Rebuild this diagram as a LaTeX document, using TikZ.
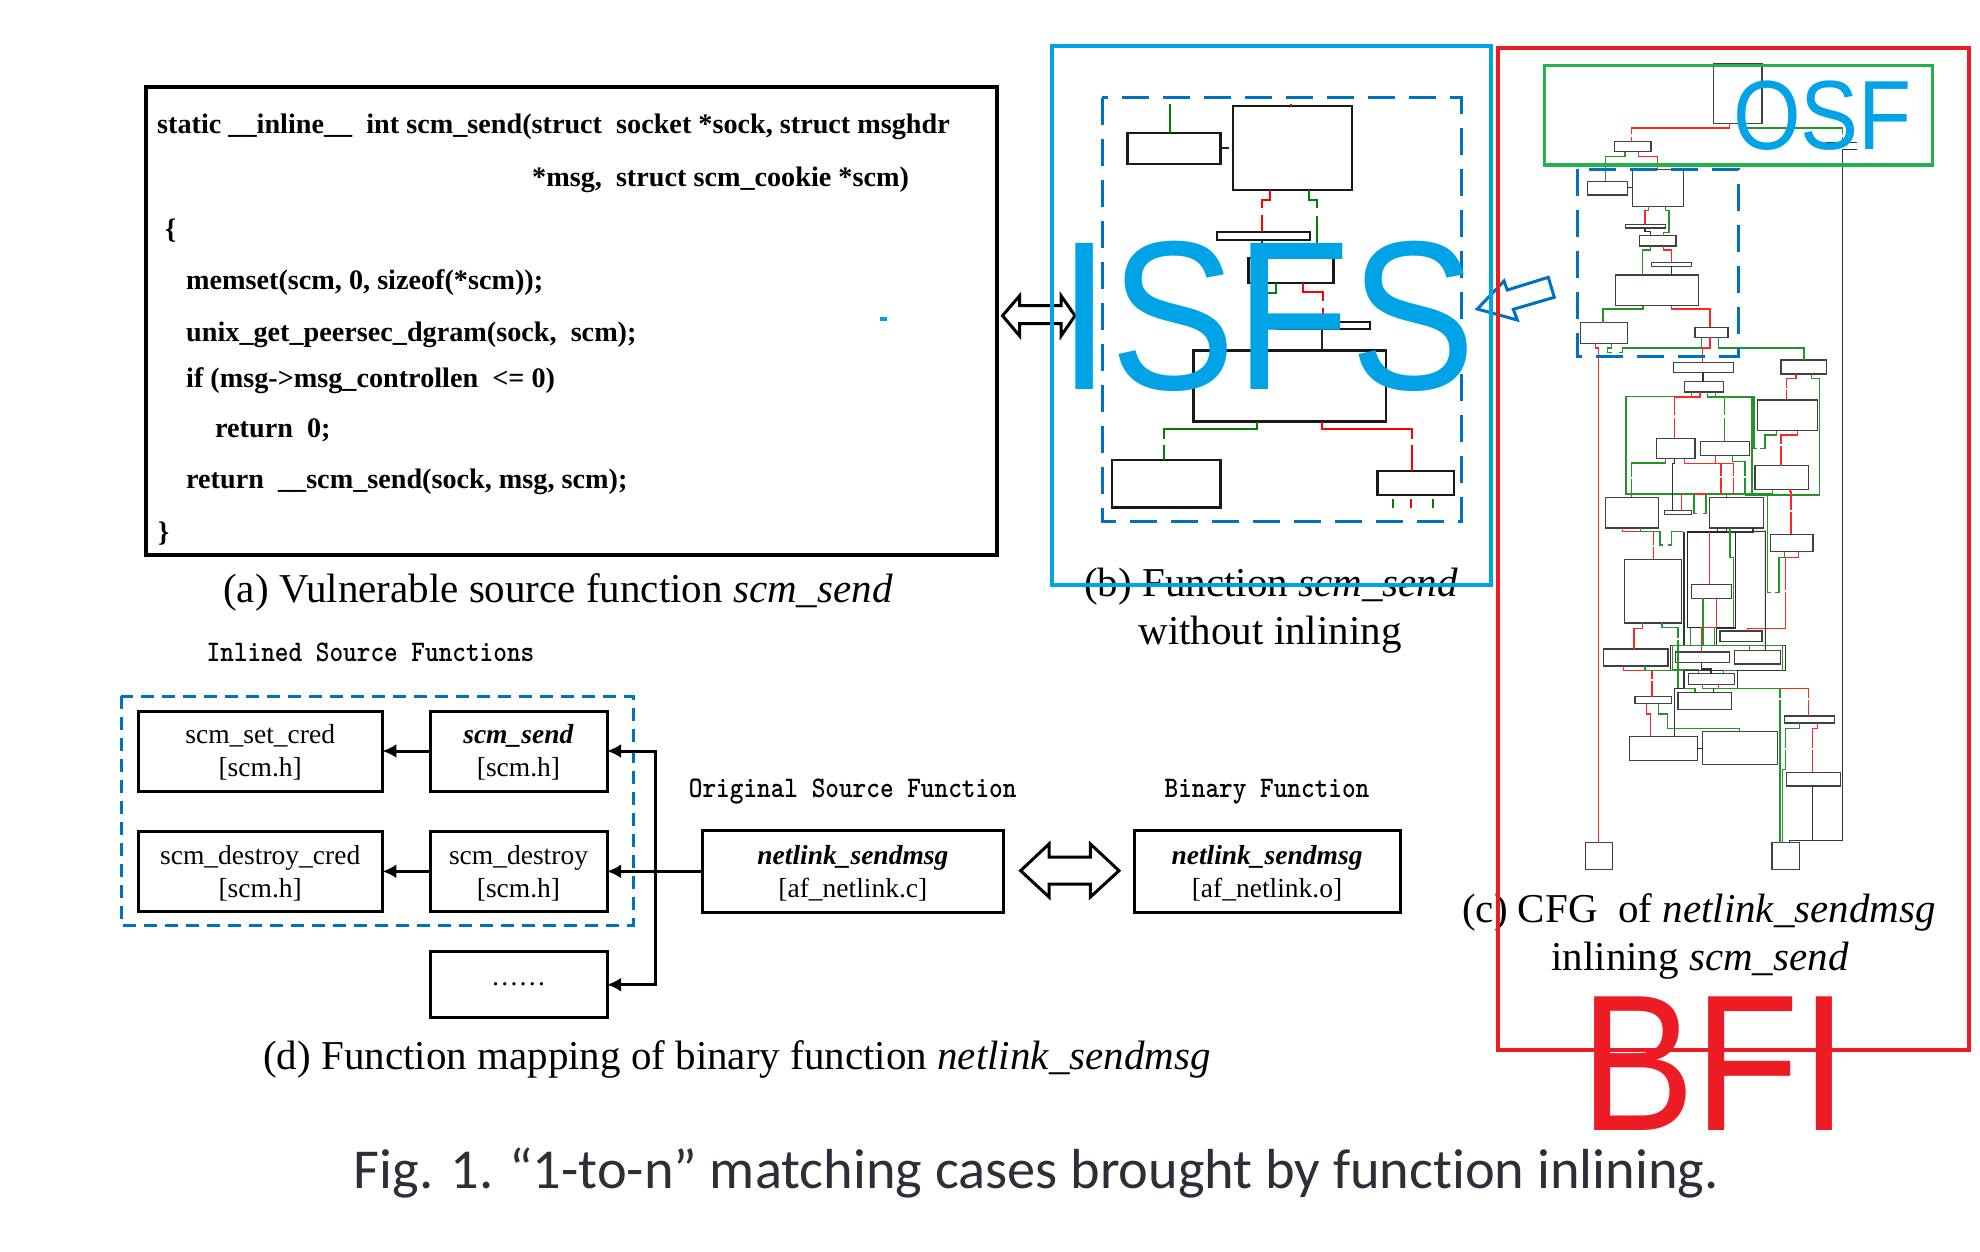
\documentclass[tikz,border=0pt]{standalone}
\usepackage{fontspec}
\setmainfont{Liberation Serif}
\newfontfamily\bigsans{Liberation Sans}
\newfontfamily\capfont[Ligatures=NoCommon]{Carlito}
\usetikzlibrary{arrows.meta}
\definecolor{dashblue}{HTML}{0070C0}
\definecolor{isfsblue}{HTML}{00A4E6}
\definecolor{bfired}{HTML}{ED1C24}
\definecolor{osfgreen}{HTML}{22B14C}
\definecolor{capgray}{HTML}{2E2E38}
\tikzset{
  x=1pt,y=-1pt,
  anybox/.style={draw,inner sep=0pt,outer sep=0pt},
  cfgbox/.style={anybox,draw=black!75,line width=1.4pt},
  isbox/.style={anybox,draw=black!90,line width=2.4pt},
  mapbox/.style={anybox,draw=black,line width=3pt,align=center,font=\fontsize{27.5}{33}\selectfont},
  codetext/.style={anchor=base west,inner sep=0pt,font=\fontsize{28.2}{30}\selectfont\bfseries},
  captext/.style={anchor=base,inner sep=0pt,font=\fontsize{41}{44}\selectfont},
  headtext/.style={inner sep=0pt,font=\fontsize{26}{30}\selectfont\ttfamily\bfseries,yscale=1.15,transform shape},
  bigtext/.style={inner sep=0pt,anchor=base west,font=\fontsize{#1}{#1}\selectfont\bigsans,yscale=1.13,transform shape},
  rr/.style={draw=red!85!white,line width=1.1pt},
  gg/.style={draw=green!50!black!85!white,line width=1.1pt},
  kk/.style={draw=black!80,line width=1.1pt},
  irr/.style={draw=red,line width=2pt},
  igg/.style={draw=green!50!black,line width=2pt},
  ikk/.style={draw=black!85,line width=2pt},
  maparrow/.style={draw=black,line width=3pt,-{Latex[length=14pt,width=14pt]}},
  outlinearrow/.style={draw=black,line width=3pt,fill=white,line join=miter},
  dashbox/.style={draw=dashblue,line width=3pt,dash pattern=on 27pt off 14pt},
}
\newcommand{\mkbox}[6][cfgbox]{%
  \pgfmathsetmacro\bxw{#5-#3}\pgfmathsetmacro\bxh{#6-#4}%
  \pgfmathsetmacro\bxx{(#3+#5)/2}\pgfmathsetmacro\bxy{(#4+#6)/2}%
  \node[#1,minimum width=\bxw pt,minimum height=\bxh pt] (#2) at (\bxx,\bxy) {};}
\begin{document}
\begin{tikzpicture}
\useasboundingbox (0,0) rectangle (1980,1252);
% ---------- (a) code
\mkbox[anybox,draw=black,line width=4pt]{code}{146}{87}{997}{555}
\node[codetext] (c1) at (157,134) {static \_\_inline\_\_ \ int scm\_send(struct \ socket *sock, struct msghdr};
\node[codetext] (c2) at (532,186) {*msg, \ struct scm\_cookie *scm)};
\node[codetext] (c3) at (165,238) {\{};
\node[codetext] (c4) at (186,289) {memset(scm, 0, sizeof(*scm));};
\node[codetext] (c5) at (186,341) {unix\_get\_peersec\_dgram(sock, \ scm);};
\node[codetext] (c6) at (186,387) {if (msg->msg\_controllen \ <= 0)};
\node[codetext] (c7) at (215,437) {return \ 0;};
\node[codetext] (c8) at (186,488) {return \ \_\_scm\_send(sock, msg, scm);};
\node[codetext] (c9) at (158,541) {\}};
\fill[isfsblue] (880,316.5) rectangle (887,321);
\node[captext] (capa) at (558,602) {(a) Vulnerable source function \textit{scm\_send}};
% ---------- double arrow a-b
\draw[outlinearrow] (1002.5,315.7) -- (1019.7,295.7) -- (1019.7,305.7) -- (1061,305.7) -- (1061,295.7) -- (1075,315.7) -- (1061,336) -- (1061,323.6) -- (1019.7,323.6) -- (1019.7,336) -- cycle;
% ---------- (b) detail graph
\draw[dashbox] (1102,98) rectangle (1461,521);
\mkbox[isbox]{ia}{1127.3}{133}{1220.3}{164}
\mkbox[isbox]{ib}{1233}{106}{1351.7}{190}
\mkbox[isbox,line width=1.8pt]{ic}{1216.7}{232}{1310}{240}
\mkbox[isbox]{id}{1248.3}{258}{1333.3}{282.7}
\mkbox[isbox,line width=1.8pt]{ie}{1277.3}{321.6}{1370}{329}
\mkbox[isbox]{if}{1193.3}{350.4}{1385.7}{421.6}
\mkbox[isbox]{ig}{1112}{460}{1220.3}{507.5}
\mkbox[isbox]{ih}{1377.3}{471}{1454}{495}
\coordinate (itop) at (1170,104.5);
\draw[igg] (itop) -- (ia.north -| itop);
\coordinate (itick) at (1229,148);
\draw[ikk] (ia.east |- itick) -- (itick);
\draw[irr] (1290.7,104) -- (ib.north -| 1290.7,0);
\draw[irr] (ib.south -| 1270,0) -- (1270,200) -- (1261.7,200) -- (1261.7,208) (1261.7,215) -- (ic.north -| 1261.7,0);
\draw[igg] (ib.south -| 1309,0) -- (1309,200) -- (1317.3,200) -- (1317.3,208) (1317.3,215.5) -- (id.north -| 1317.3,0);
\draw[ikk] (ic.south -| 1261.7,0) -- (id.north -| 1261.7,0);
\draw[igg] (id.south -| 1275.7,0) -- (1275.7,292.5) -- (1256,292.5) -- (if.north -| 1256,0);
\draw[irr] (id.south -| 1303.3,0) -- (1303.3,292) -- (1322.7,292) -- (1322.7,301) (1322.7,308) -- (ie.north -| 1322.7,0);
\draw[ikk] (ie.south -| 1322.3,0) -- (if.north -| 1322.3,0);
\draw[igg] (if.south -| 1256.7,0) -- (1256.7,429) -- (1164.3,429) -- (1164.3,439) (1164.3,444.5) -- (ig.north -| 1164.3,0);
\draw[irr] (if.south -| 1322.3,0) -- (1322.3,429) -- (1411.7,429) -- (1411.7,439) (1411.7,444.5) -- (ih.north -| 1411.7,0);
\draw[igg] (1393.3,499) -- (1393.3,508);
\draw[irr] (1411.3,499) -- (1411.3,508);
\draw[igg] (1432.7,499) -- (1432.7,508);
% ---------- (c) CFG boxes
\mkbox{top}{1713.3}{64}{1762}{123.3}
\mkbox[cfgbox,draw=none]{tb}{1825}{142.7}{1857}{149.3}
\mkbox{s1}{1614.3}{141.7}{1651}{151.7}
\mkbox{s2}{1587.3}{181.3}{1627.3}{195}
\mkbox{s3}{1632.3}{169.3}{1683.7}{206.3}
\mkbox[cfgbox,line width=1.1pt]{s4}{1625.7}{224.3}{1665.7}{228}
\mkbox{s5}{1639.3}{235.7}{1676}{246}
\mkbox[cfgbox,line width=1.1pt]{s6}{1651.7}{262.7}{1691.7}{266.3}
\mkbox{s7}{1615.7}{275}{1698.7}{305.7}
\mkbox{s8}{1580.3}{322.7}{1627.3}{343.3}
\mkbox{s9}{1695}{327.3}{1728}{337.3}
\mkbox{n1}{1673.3}{362.5}{1733.5}{372.5}
\mkbox{n2}{1781}{360}{1826.3}{374}
\mkbox{n3}{1684.7}{381.7}{1723.3}{392}
\mkbox{n4}{1757.3}{400}{1817.3}{430.7}
\mkbox{n5}{1656.3}{438.7}{1695}{458.7}
\mkbox{n6}{1700.3}{441.7}{1749.3}{455.3}
\mkbox{n7}{1755}{465.7}{1808.3}{489.3}
\mkbox{n8}{1770.7}{534.3}{1813}{551.7}
\mkbox{n9}{1605.3}{497.3}{1658.7}{528}
\mkbox[cfgbox,line width=1.1pt]{n10}{1664.3}{510.7}{1691.7}{514.3}
\mkbox{n11}{1709.7}{497.3}{1763.3}{528}
\mkbox{n12}{1624.7}{559.3}{1681.3}{623}
\mkbox{n13}{1691.3}{584.3}{1731.3}{598.3}
\mkbox{n14}{1720}{631}{1762}{641.3}
\mkbox{n15}{1603.3}{649}{1668}{666}
\mkbox{n16}{1675.7}{652}{1729.3}{662.7}
\mkbox{n17}{1734.3}{650.3}{1780.7}{664}
\mkbox{n18}{1688.3}{673.7}{1734.7}{684.3}
\mkbox{n19}{1678}{692.3}{1731.3}{709.3}
\mkbox{n20}{1635}{696.7}{1671.3}{703.7}
\mkbox{n21}{1629.3}{736.3}{1697.3}{760.3}
\mkbox{n22}{1702.7}{731.7}{1777.7}{764.7}
\mkbox{n23}{1784.3}{716}{1834.3}{723}
\mkbox{n24}{1786.7}{772.7}{1840.3}{786}
\mkbox{t1}{1585.3}{842.7}{1612.7}{869.7}
\mkbox{t2}{1772}{842.7}{1799.3}{869.7}
% ---------- (c) CFG connectors
\draw[kk] (tb.north west) -- (tb.north east) (tb.south -| 1842.3,0) -- (tb.south east);
\draw[rr] (top.south -| 1729.3,0) -- (1729.3,128) -- (1631.7,128) -- (1631.7,134) (1631.7,136.7) -- (s1.north -| 1631.7,0);
\draw[gg] (top.south -| 1745,0) -- (1745,128) -- (1842.3,128) -- (1842.3,134) (1842.3,136.7) -- (tb.north -| 1842.3,0);
\draw[kk] (tb.south -| 1842.3,0) -- (1842.3,840.7) -- (1789.3,840.7) -- (t2.north -| 1789.3,0);
\draw[gg] (s1.south -| 1625,0) -- (1625,156.7) -- (1605.3,156.7) -- (s2.north -| 1605.3,0);
\draw[rr] (s1.south -| 1638.3,0) -- (1638.3,156.7) -- (1657.7,156.7) -- (s3.north -| 1657.7,0);
\draw[kk] (s2.east |- 0,187.7) -- (s3.west |- 0,187.7);
\draw[rr] (s3.south -| 1648.3,0) -- (1648.3,210.7) -- (1645,210.7) -- (s4.north -| 1645,0);
\draw[gg] (s3.south -| 1665.7,0) -- (1665.7,210.7) -- (1669,210.7) -- (1669,232.7) -- (1663.3,232.7) -- (s5.north -| 1663.3,0);
\draw[kk] (s4.south -| 1645,0) -- (1645,231.7) -- (1650.7,231.7) -- (s5.north -| 1650.7,0);
\draw[gg] (s5.south -| 1650.7,0) -- (1650.7,250) -- (1642.7,250) -- (s7.north -| 1642.7,0);
\draw[rr] (s5.south -| 1663.3,0) -- (1663.3,250) -- (1671.3,250) -- (s6.north -| 1671.3,0);
\draw[kk] (s6.south -| 1671.3,0) -- (s7.north -| 1671.3,0);
\draw[gg] (s7.south -| 1643,0) -- (1643,309) -- (1603,309) -- (s8.north -| 1603,0);
\draw[rr] (s7.south -| 1671.3,0) -- (1671.3,309) -- (1710,309) -- (s9.north -| 1710,0);
\draw[rr] (s8.south -| 1595.3,0) -- (1595.3,348) -- (1598.7,348) -- (t1.north -| 1598.7,0);
\draw[gg] (s8.south -| 1611.3,0) -- (1611.3,348) -- (1607.7,348) -- (1607.7,352.3) -- (1611.7,352.3);
\draw[gg] (1619,352.3) -- (1622.3,352.3) -- (1622.3,348) -- (1701.7,348) -- (s9.south -| 1701.7,0);
\draw[rr] (s9.south -| 1710,0) -- (1710,348) -- (1702.7,348) -- (n1.north -| 1702.7,0);
\draw[gg] (s9.south -| 1718.7,0) -- (1718.7,348) -- (1804,348) -- (n2.north -| 1804,0);
\draw[kk,line width=1.4pt] (n1.south -| 1703,0) -- (n3.north -| 1703,0);
\draw[gg] (n3.south -| 1691.7,0) -- (1691.7,396.7) -- (1626,396.7) -- (1626,494) -- (1772.3,494) -- (n7.south -| 1772.3,0);
\draw[gg] (n3.south -| 1707.7,0) -- (1707.7,397) -- (1754,397) -- (1754,448.5) -- (1757,448.5) (1760,448.5) -- (1765,448.5) -- (1765,435) -- (1776.3,435) -- (n4.south -| 1776.3,0);
\draw[gg] (1752,396.7) -- (1752,494);
\draw[gg] (n3.south -| 1715.3,0) -- (1715.3,397);
\draw[gg] (1724.7,397) -- (1724.7,415) (1724.7,418) -- (n6.north -| 1724.7,0);
\draw[rr] (n3.south -| 1700,0) -- (1700,397) -- (1674.7,397) -- (1674.7,415) (1674.7,418) -- (n5.north -| 1674.7,0);
\draw[rr] (n2.south -| 1796,0) -- (1796,378.3) -- (1786.7,378.3) -- (1786.7,388) (1786.7,390) -- (n4.north -| 1786.7,0);
\draw[gg] (n2.south -| 1811.7,0) -- (1811.7,378.3) -- (1819.7,378.3) -- (1819.7,495) -- (1745,495);
\draw[rr] (n4.south -| 1797.3,0) -- (1797.3,435) -- (1781,435) -- (1781,444) (1781,446) -- (n7.north -| 1781,0);
\draw[rr] (n7.south -| 1790,0) -- (1790,491.7) -- (1791,491.7) -- (1791,510) (1791,512) -- (n8.north -| 1791,0);
\draw[rr] (n8.south -| 1798.3,0) -- (1798.3,557.3) -- (1785.7,557.3) -- (1785.7,590) (1785.7,592) -- (1785.7,628.3) -- (1747.7,628.3) -- (n14.north -| 1747.7,0);
\draw[gg] (n8.south -| 1784.3,0) -- (1784.3,557.3) -- (1779,557.3) -- (1779,592.3) -- (1775,592.3) (1771,592.3) -- (1767.3,592.3) -- (1767.3,494);
\draw[gg] (n5.south -| 1665.7,0) -- (1665.7,463) -- (1631.7,463) -- (1631.7,477) (1631.7,479) -- (n9.north -| 1631.7,0);
\draw[kk] (n5.south -| 1674.7,0) -- (1674.7,463.3) -- (1672.3,463.3) -- (n10.north -| 1672.3,0);
\draw[rr] (n5.south -| 1684.7,0) -- (1684.7,463.3) -- (1733.3,463.3) -- (1733.3,476) (1733.3,478) -- (1733.3,494);
\draw[rr] (n6.south -| 1715.3,0) -- (1715.3,463.3);
\draw[rr] (1721,463.3) -- (1721,476) (1721,478) -- (1721,494);
\draw[gg] (n6.south -| 1732.3,0) -- (1732.3,461.7) -- (1745,461.7) -- (1745,476) (1745,478) -- (1745,495);
\draw[rr] (1681.3,494) -- (1681.3,510.7);
\draw[gg] (1694,494) -- (1694,513.3) -- (1697.3,513.3);
\draw[gg] (1706,494) -- (1706,513.3) -- (1703.3,513.3);
\draw[rr] (1694,494) -- (1706,494);
\draw[rr] (1726.7,494) -- (n11.north -| 1726.7,0);
\draw[rr] (n9.south -| 1622.3,0) -- (1622.3,531.3) -- (1653.3,531.3) -- (1653.3,545) (1653.3,547) -- (n12.north -| 1653.3,0);
\draw[gg] (n9.south -| 1640.7,0) -- (1640.7,531.3) -- (1660,531.3) -- (1660,545) -- (1663.3,545) (1668.3,545) -- (1671.3,545) -- (1671.3,531.3) -- (1683.3,531.3);
\draw[kk,line width=1.3pt] (1684,531.7) -- (1684,645.3);
\draw[draw=black!85,line width=1.3pt] (1687.3,532) rectangle (1735.7,627.3);
\draw[kk] (n11.south -| 1717.3,0) -- (1717.3,532);
\draw[kk] (n11.south -| 1726.7,0) -- (1726.7,532) -- (1753,532) -- (n11.south -| 1753,0);
\draw[kk] (1735.7,532) -- (1765.3,531.3) -- (n17.north -| 1765.3,0);
\draw[gg] (n11.south -| 1730,0) -- (1730,557.3) -- (1733.3,557.3) -- (1733.3,627.3);
\draw[rr] (1709.7,532.3) -- (n13.north -| 1709.7,0);
\draw[gg] (n13.south -| 1703,0) -- (1703,645.3);
\draw[rr] (n13.south -| 1716.7,0) -- (1716.7,627.3) -- (1701.7,627.3) -- (n16.north -| 1701.7,0);
\draw[kk,line width=1.2pt] (1735.7,628.3) -- (1716.7,628.3) -- (1716.7,645.3);
\draw[rr] (n12.south -| 1642.7,0) -- (1642.7,628.3) -- (1634,628.3) -- (n15.north -| 1634,0);
\draw[gg] (n12.south -| 1662,0) -- (1662,627.3) -- (1678,627.3) -- (1678,638) (1678,640) -- (1678,688.7);
\draw[gg] (1690.7,627.3) -- (1690.7,645.3) -- (1671.7,645.3);
\draw[gg] (1714.7,627.3) -- (1714.7,645.3);
\draw[kk,line width=1.3pt] (1670.3,645.3) rectangle (1785.7,670.7);
\draw[gg] (1672.3,645.3) -- (1672.3,669.3) -- (1698.3,669.3) -- (n18.north -| 1698.3,0);
\draw[gg] (1672.3,645.3) -- (1782.7,645.3) -- (1782.7,670.7);
\draw[gg] (1749.3,645.3) -- (n17.north -| 1749.3,0);
\draw[kk] (n16.south -| 1701.7,0) -- (1701.7,669) -- (1711,669) -- (n18.north -| 1711,0);
\draw[gg] (n18.north -| 1723.3,0) -- (1723.3,670.7) -- (1736,670.7);
\draw[kk,line width=1.5pt] (1737.3,670.7) -- (1737.3,688.7);
\draw[kk,line width=1.3pt] (1684,670.7) -- (1684,688.7) -- (1674.7,688.7) -- (n21.north -| 1674.7,0);
\draw[gg] (1684,688.7) -- (1695,688.7) -- (n19.north -| 1695,0);
\draw[rr] (n15.south -| 1623.7,0) -- (1623.7,670.7) -- (1645,670.7);
\draw[gg] (n15.south -| 1645,0) -- (1645,670.7) -- (1684,670.7);
\draw[rr] (1652,670.7) -- (1652,679) (1652,681) -- (n20.north -| 1652,0);
\draw[gg] (n18.south -| 1702.7,0) -- (1702.7,688.7) -- (1780,688.7);
\draw[rr] (n18.south -| 1718.7,0) -- (1718.7,688.7);
\draw[kk] (1713.3,688.7) -- (n19.north -| 1713.3,0);
\draw[rr] (1780,688.7) -- (1808.3,688.7) -- (1808.3,698) (1808.3,700) -- (n23.north -| 1808.3,0);
\draw[gg,line width=1.6pt] (1780,688.7) -- (1780,698) (1780,700) -- (t2.north -| 1780,0);
\draw[gg] (n23.south -| 1799.3,0) -- (1799.3,728.3) -- (1785.7,728.3) -- (1785.7,748) (1785.7,750) -- (1785.7,769.3) -- (1782.3,769.3) -- (t2.north -| 1782.3,0);
\draw[rr] (n23.south -| 1817.3,0) -- (1817.3,728.3) -- (1812.7,728.3) -- (1812.7,748) (1812.7,750) -- (n24.north -| 1812.7,0);
\draw[kk,line width=1.4pt] (n24.south -| 1812.7,0) -- (1812.7,840);
\draw[rr] (n20.south -| 1646.3,0) -- (1646.3,714) -- (1650.7,714) -- (n21.north -| 1650.7,0);
\draw[gg] (n20.south -| 1658.7,0) -- (1658.7,714) -- (1667.7,714) -- (1667.7,728.3) -- (1739.3,728.3) -- (n22.north -| 1739.3,0);
\draw[kk,line width=1.4pt] (n21.east) -- (n22.west |- n21.east);
% ---------- blue dashed in (c)
\draw[dashbox] (1577.3,169.3) rectangle (1738,356);
% ---------- small blue arrow
\draw[draw=dashblue,line width=3pt,fill=white] (1477.3,309) -- (1504,281) -- (1507.3,290) -- (1548.3,277.3) -- (1554.3,297.3) -- (1513.3,309.3) -- (1517.3,320) -- cycle;
% ---------- captions
\node[captext] (capb1) at (1271,596) {(b) Function \textit{scm\_send}};
\node[captext] (capb2) at (1270,644) {without inlining};
\node[captext] (capc1) at (1699,922) {(c) CFG \ of \textit{netlink\_sendmsg}};
\node[captext] (capc2) at (1700,970) {inlining \textit{scm\_send}};
% ---------- (d) function map
\draw[dashbox,dash pattern=on 13pt off 8pt] (121,696) rectangle (633,925);
\mkbox[mapbox]{m1}{138}{711}{382.4}{791}
\mkbox[mapbox]{m2}{430}{711}{607}{791}
\mkbox[mapbox]{m3}{138}{831}{382.4}{911.7}
\mkbox[mapbox]{m4}{430}{831}{607}{911.7}
\mkbox[mapbox]{m5}{430}{951.7}{607}{1017.7}
\mkbox[mapbox]{m6}{702.7}{830.7}{1003}{912}
\mkbox[mapbox]{m7}{1134}{830.7}{1400}{912}
\node[mapbox,draw=none] at ([yshift=-1.5pt]m1) {scm\_set\_cred\\{}[scm.h]};
\node[mapbox,draw=none] at ([yshift=-1.5pt]m2) {\textbf{\textit{scm\_send}}\\{}[scm.h]};
\node[mapbox,draw=none] at ([yshift=-1.5pt]m3) {scm\_destroy\_cred\\{}[scm.h]};
\node[mapbox,draw=none] at ([yshift=-1.5pt]m4) {scm\_destroy\\{}[scm.h]};
\node[mapbox,draw=none] at (m5) {\dots\dots};
\node[mapbox,draw=none] at ([yshift=-1.5pt]m6) {\textbf{\textit{netlink\_sendmsg}}\\{}[af\_netlink.c]};
\node[mapbox,draw=none] at ([yshift=-1.5pt]m7) {\textbf{\textit{netlink\_sendmsg}}\\{}[af\_netlink.o]};
\draw[maparrow] (m2) -- (m1);
\draw[maparrow] (m4) -- (m3);
\coordinate (bus) at (655,870.7);
\draw[maparrow] (m6.west) -- (m4.east |- m6.west);
\draw[maparrow] (bus) |- (m2.east);
\draw[maparrow] (bus) |- (m5.east);
\draw[outlinearrow] (1020.6,870.7) -- (1049,844) -- (1049,857) -- (1090.4,857) -- (1090.4,844) -- (1119,870.7) -- (1090.4,897) -- (1090.4,884) -- (1049,884) -- (1049,897) -- cycle;
\node[headtext] (h1) at (370.5,652) {Inlined Source Functions};
\node[headtext] (h2) at (852.7,791.5) {Original Source Function};
\node[headtext] (h3) at (1267,791.5) {Binary Function};
\node[captext] (capd) at (737,1069) {(d) Function mapping of binary function \textit{netlink\_sendmsg}};
\node[anchor=base,inner sep=0pt,text=capgray,font=\fontsize{56.4}{60}\selectfont\capfont] (fig) at (1036.5,1188) {Fig. 1.\hspace{16pt}“1-to-n” matching cases brought by function inlining.};
% ---------- overlays
\node[bigtext=188,text=isfsblue] (isfs) at (1058,389) {ISFS};
\node[bigtext=87,text=isfsblue] (osf) at (1733,150) {OSF};
\draw[draw=isfsblue,line width=3.3pt] (1052,46) rectangle (1491,585);
\draw[draw=osfgreen,line width=3.3pt] (1544.3,65.7) rectangle (1932.3,165);
\draw[draw=bfired,line width=3.3pt] (1498,48) rectangle (1969,1050);
\node[bigtext=172,text=bfired] (bfi) at (1580,1130) {BFI};
\end{tikzpicture}
\end{document}
